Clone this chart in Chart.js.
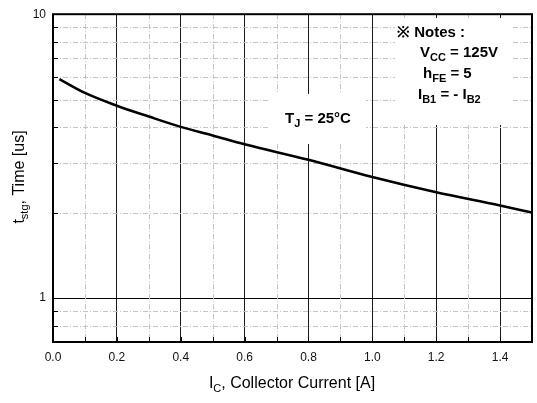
<!DOCTYPE html>
<html>
<head>
<meta charset="utf-8">
<script src="https://cdn.jsdelivr.net/npm/chart.js@4"></script>
<style>
  html, body { margin: 0; padding: 0; background: #fff; }
</style>
</head>
<body>
<canvas id="canvas" width="537" height="403"></canvas>
<script>
// collector current [A] and storage time [us]
const current = [0.02, 0.1, 0.2, 0.3, 0.4, 0.5, 0.6, 0.8, 1.0, 1.2, 1.4, 1.5];
const storageTime = [5.91, 5.28, 4.76, 4.36, 4.01, 3.74, 3.48, 3.07, 2.67, 2.36, 2.12, 2.0];

const xMajorTicks = [0.0, 0.2, 0.4, 0.6, 0.8, 1.0, 1.2, 1.4];
const xMinorTicks = [0.1, 0.3, 0.5, 0.7, 0.9, 1.1, 1.3];
const yMajorTicks = [1, 10];
const yMinorTicks = [0.8, 0.9, 2, 3, 4, 5, 6, 7, 8, 9];

// text runs: [text, isSubscript]
const xTitle = [['I', 0], ['C', 1], [', Collector Current [A]', 0]];
const yTitle = [['t', 0], ['stg', 1], [', Time [us]', 0]];
const tjLabel = [['T', 0], ['J', 1], [' = 25°C', 0]];
const notesLines = [
  [['※ Notes :', 0]],
  [['V', 0], ['CC', 1], [' = 125V', 0]],
  [['h', 0], ['FE', 1], [' = 5', 0]],
  [['I', 0], ['B1', 1], [' = - I', 0], ['B2', 1]]
];

const FONT = '"Liberation Sans", Arial, sans-serif';

function drawRuns(ctx, runs, x, y, size, weight) {
  let cx = x;
  runs.forEach(([t, sub]) => {
    const s = sub ? Math.round(size * 0.7) : size;
    ctx.font = weight + ' ' + s + 'px ' + FONT;
    ctx.fillText(t, cx, sub ? y + size * 0.28 : y);
    cx += ctx.measureText(t).width;
  });
  return cx - x;
}

function runsWidth(ctx, runs, size, weight) {
  let w = 0;
  runs.forEach(([t, sub]) => {
    const s = sub ? Math.round(size * 0.7) : size;
    ctx.font = weight + ' ' + s + 'px ' + FONT;
    w += ctx.measureText(t).width;
  });
  return w;
}

const decor = {
  id: 'decor',
  beforeDatasetsDraw(chart) {
    const { ctx, chartArea: a, scales: { x, y } } = chart;
    ctx.save();
    // dashed minor grid
    ctx.strokeStyle = '#c4c4c4';
    ctx.lineWidth = 1;
    ctx.setLineDash([5, 2, 1, 2]);
    xMinorTicks.forEach(v => {
      const px = Math.round(x.getPixelForValue(v)) + 0.5;
      ctx.beginPath(); ctx.moveTo(px, a.top); ctx.lineTo(px, a.bottom); ctx.stroke();
    });
    yMinorTicks.forEach(v => {
      const py = Math.round(y.getPixelForValue(v)) + 0.5;
      ctx.beginPath(); ctx.moveTo(a.left, py); ctx.lineTo(a.right, py); ctx.stroke();
    });
    ctx.setLineDash([]);
    // small inward ticks
    ctx.strokeStyle = '#000';
    xMinorTicks.concat(xMajorTicks).forEach(v => {
      const px = Math.round(x.getPixelForValue(v)) + 0.5;
      ctx.beginPath(); ctx.moveTo(px, a.bottom); ctx.lineTo(px, a.bottom - 5); ctx.stroke();
    });
    yMinorTicks.forEach(v => {
      const py = Math.round(y.getPixelForValue(v)) + 0.5;
      ctx.beginPath(); ctx.moveTo(a.left, py); ctx.lineTo(a.left + 5, py); ctx.stroke();
    });
    // white label boxes hiding the grid
    ctx.fillStyle = '#fff';
    ctx.fillRect(268, 94, 98, 50);
    ctx.fillRect(395, 18, 118, 107);
    // frame
    ctx.strokeStyle = '#000';
    ctx.lineWidth = 2;
    ctx.strokeRect(a.left, a.top, a.right - a.left, a.bottom - a.top);
    ctx.restore();
  },
  afterDraw(chart) {
    const { ctx, chartArea: a } = chart;
    ctx.save();
    ctx.fillStyle = '#000';
    ctx.textBaseline = 'alphabetic';
    ctx.textAlign = 'left';
    // axis titles
    const xw = runsWidth(ctx, xTitle, 16, 'normal');
    drawRuns(ctx, xTitle, 292 - xw / 2, 388, 16, 'normal');
    const yw = runsWidth(ctx, yTitle, 16, 'normal');
    ctx.save();
    ctx.translate(24, 177);
    ctx.rotate(-Math.PI / 2);
    drawRuns(ctx, yTitle, -yw / 2, 0, 16, 'normal');
    ctx.restore();
    // annotations
    drawRuns(ctx, tjLabel, 285, 123, 15, 'bold');
    const lineX = [397, 420, 423, 418];
    const lineY = [37, 57, 78, 99];
    notesLines.forEach((runs, i) => drawRuns(ctx, runs, lineX[i], lineY[i], 15, 'bold'));
    ctx.restore();
  }
};

new Chart(document.getElementById('canvas').getContext('2d'), {
  type: 'line',
  data: {
    datasets: [{
      data: current.map((c, i) => ({ x: c, y: storageTime[i] })),
      borderColor: '#000',
      borderWidth: 2.5,
      pointRadius: 0,
      cubicInterpolationMode: 'monotone',
      fill: false
    }]
  },
  options: {
    responsive: false,
    animation: false,
    layout: { padding: { top: 4, right: 5, left: 0, bottom: 0 } },
    plugins: { legend: { display: false }, tooltip: { enabled: false } },
    scales: {
      x: {
        type: 'linear',
        min: 0,
        max: 1.5,
        afterFit(s) { s.height = 61; },
        afterBuildTicks(s) { s.ticks = xMajorTicks.map(v => ({ value: v })); },
        ticks: {
          autoSkip: false,
          maxRotation: 0,
          padding: 8,
          color: '#111',
          font: { family: FONT, size: 12 },
          callback: v => Number(v).toFixed(1)
        },
        grid: {
          drawTicks: false,
          color: c => (c.tick && c.tick.value > 0 ? '#1a1a1a' : 'rgba(0,0,0,0)'),
          lineWidth: 1
        },
        border: { display: false }
      },
      y: {
        type: 'logarithmic',
        min: 0.7,
        max: 10,
        afterFit(s) { s.width = 53; },
        afterBuildTicks(s) { s.ticks = yMajorTicks.map(v => ({ value: v })); },
        ticks: {
          autoSkip: false,
          padding: 7,
          color: '#111',
          font: { family: FONT, size: 12 },
          callback: v => String(v)
        },
        grid: {
          drawTicks: false,
          color: '#000',
          lineWidth: 1
        },
        border: { display: false }
      }
    }
  },
  plugins: [decor]
});
</script>
</body>
</html>
